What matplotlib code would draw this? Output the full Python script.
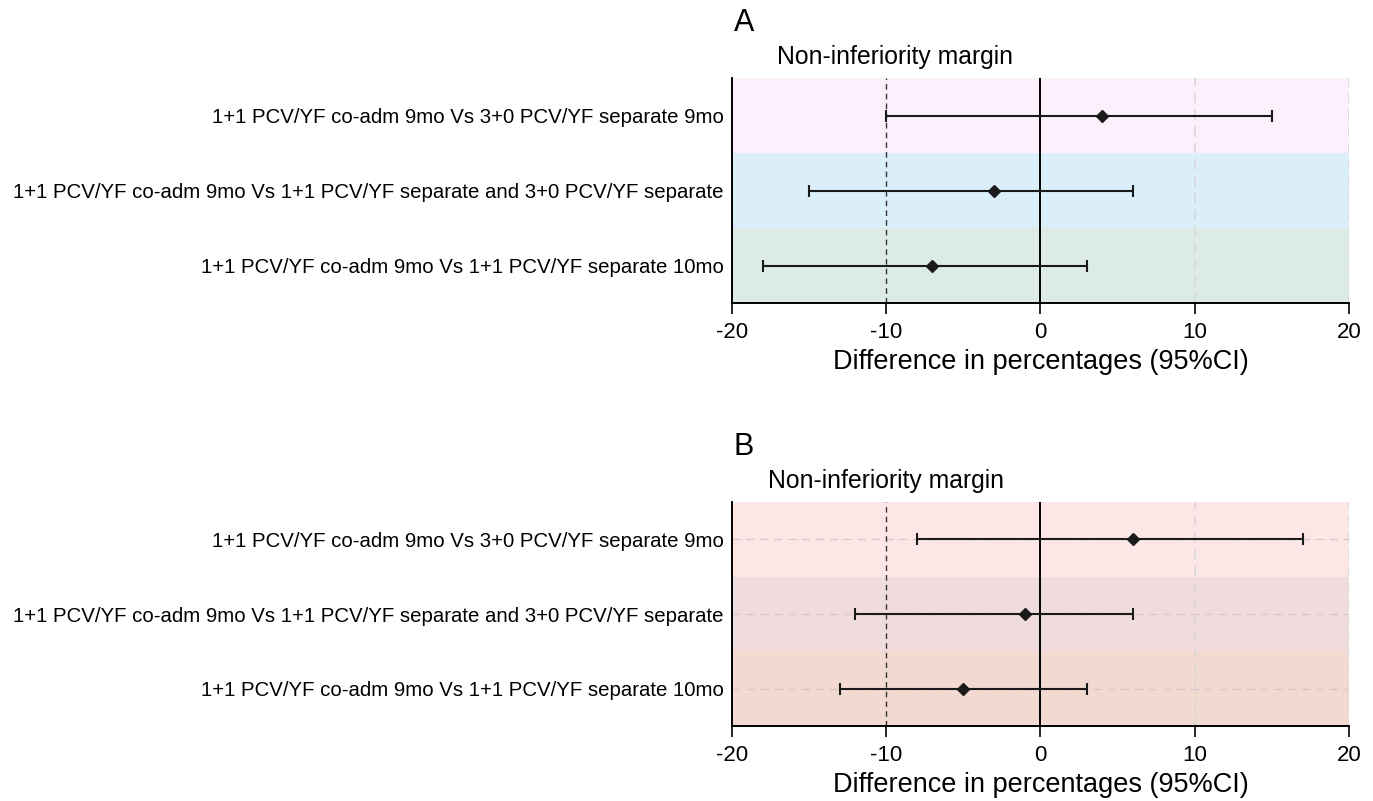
import matplotlib
matplotlib.use("Agg")
import matplotlib.pyplot as plt

plt.rcParams['font.family'] = ['Liberation Sans', 'DejaVu Sans']

# comparisons, top to bottom
comparisons = [
    "1+1 PCV/YF co-adm 9mo Vs 3+0 PCV/YF separate 9mo",
    "1+1 PCV/YF co-adm 9mo Vs 1+1 PCV/YF separate and 3+0 PCV/YF separate",
    "1+1 PCV/YF co-adm 9mo Vs 1+1 PCV/YF separate 10mo",
]

# panel A
a_est = [4, -3, -7]
a_low = [-10, -15, -18]
a_high = [15, 6, 3]

# panel B
b_est = [6, -1, -5]
b_low = [-8, -12, -13]
b_high = [17, 6, 3]

x_ticks = [-20, -10, 0, 10, 20]
margin = -10

a_bands = ['#fcf0fc', '#daeffa', '#dcece4']
b_bands = ['#fde6e6', '#f0dcdd', '#f2dad0']


def draw_panel(ax, letter, est, low, high, bands, hgrid, title_x):
    n = len(est)
    ys = [n - i for i in range(n)]
    for y, c in zip(ys, bands):
        ax.axhspan(y - 0.5, y + 0.5, color=c, zorder=0, lw=0)
    for t in x_ticks[3:]:
        ax.axvline(t, color='#d8d8d8', ls=(0, (6, 4)), lw=1.2, zorder=1)
    if hgrid:
        for y in ys:
            ax.axhline(y, color='#dcc8c8', ls=(0, (6, 4)), lw=1.0, zorder=1)
    ax.axvline(margin, color='#333333', ls=(0, (4, 3)), lw=1.0, zorder=2)
    ax.axvline(0, color='black', lw=1.4, zorder=2)
    for y, e, lo, hi in zip(ys, est, low, high):
        ax.errorbar(e, y, xerr=[[e - lo], [hi - e]], fmt='D', color='#1a1a1a',
                    ms=6, capsize=4, elinewidth=1.5, capthick=1.5, zorder=3)
    ax.set_xlim(-20, 20)
    ax.set_ylim(0.5, n + 0.5)
    ax.set_xticks(x_ticks)
    ax.set_xticklabels([str(t) for t in x_ticks], fontsize=16)
    ax.set_yticks(ys)
    ax.set_yticklabels(comparisons, fontsize=14.7)
    ax.tick_params(axis='y', length=0, pad=6)
    ax.tick_params(axis='x', length=8, width=1.2, pad=6)
    ax.spines['top'].set_visible(False)
    ax.spines['right'].set_visible(False)
    ax.spines['left'].set_linewidth(1.4)
    ax.spines['bottom'].set_linewidth(1.4)
    ax.set_xlabel("Difference in percentages (95%CI)", fontsize=19.5, labelpad=4)
    ax.text(-19.9, n + 0.5 + 0.53, letter, fontsize=22, ha='left', va='bottom',
            clip_on=False)
    ax.text(title_x, n + 0.5 + 0.12, "Non-inferiority margin", fontsize=17.8,
            ha='center', va='bottom', clip_on=False)


fig = plt.figure(figsize=(13.73, 8.01), dpi=100)
ax_a = fig.add_axes([0.5331, 0.6217, 0.4494, 0.2809])
ax_b = fig.add_axes([0.5331, 0.0936, 0.4494, 0.2797])

draw_panel(ax_a, "A", a_est, a_low, a_high, a_bands, False, -9.4)
draw_panel(ax_b, "B", b_est, b_low, b_high, b_bands, True, -10.0)

fig.savefig("out.png", dpi=100)
